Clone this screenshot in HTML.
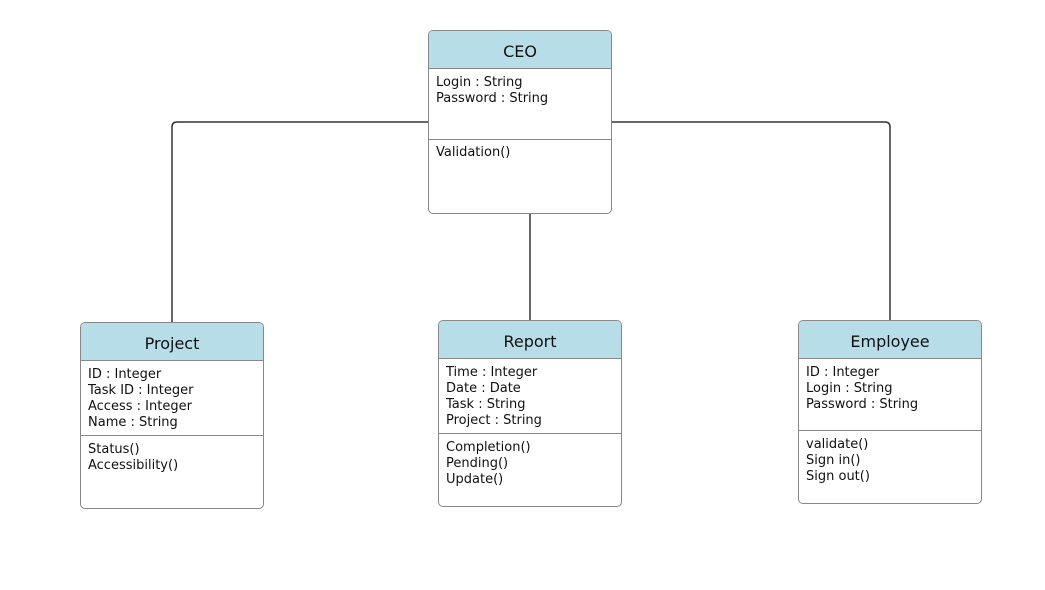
<!DOCTYPE html>
<html><head><style>
body{margin:0;width:1045px;height:590px;background:#fff;position:relative;overflow:hidden;font-family:"DejaVu Sans","Liberation Sans",sans-serif;}
.b{position:absolute;width:184px;border:1px solid #888;border-radius:5px;background:#fff;box-sizing:border-box;overflow:hidden}
.h{background:#b7dde8;border-bottom:1px solid #888;text-align:center;font-size:16px;color:#111;box-sizing:border-box}
.s{font-size:13px;line-height:16px;color:#111;padding:6px 0 0 7px;box-sizing:border-box}
.d{border-top:1px solid #888}
</style></head><body>
<svg width="1045" height="590" style="position:absolute;left:0;top:0">
<g stroke="#333" stroke-width="1.5" fill="none">
<path d="M428 122 H177 Q172 122 172 127 V322"/>
<path d="M611 122 H885 Q890 122 890 127 V320"/>
<path d="M530 213 V320"/>
</g></svg>

<div class="b" style="left:428px;top:30px;height:184px">
<div class="h" style="height:38px;line-height:42px">CEO</div>
<div class="s" style="height:70px">Login : String<br>Password : String</div>
<div class="s d" style="padding-top:5px">Validation()</div>
</div>

<div class="b" style="left:80px;top:322px;height:187px">
<div class="h" style="height:38px;line-height:42px">Project</div>
<div class="s" style="height:74px">ID : Integer<br>Task ID : Integer<br>Access : Integer<br>Name : String</div>
<div class="s d">Status()<br>Accessibility()</div>
</div>

<div class="b" style="left:438px;top:320px;height:187px">
<div class="h" style="height:38px;line-height:42px">Report</div>
<div class="s" style="height:74px">Time : Integer<br>Date : Date<br>Task : String<br>Project : String</div>
<div class="s d">Completion()<br>Pending()<br>Update()</div>
</div>

<div class="b" style="left:798px;top:320px;height:184px">
<div class="h" style="height:38px;line-height:42px">Employee</div>
<div class="s" style="height:71px">ID : Integer<br>Login : String<br>Password : String</div>
<div class="s d">validate()<br>Sign in()<br>Sign out()</div>
</div>
</body></html>
